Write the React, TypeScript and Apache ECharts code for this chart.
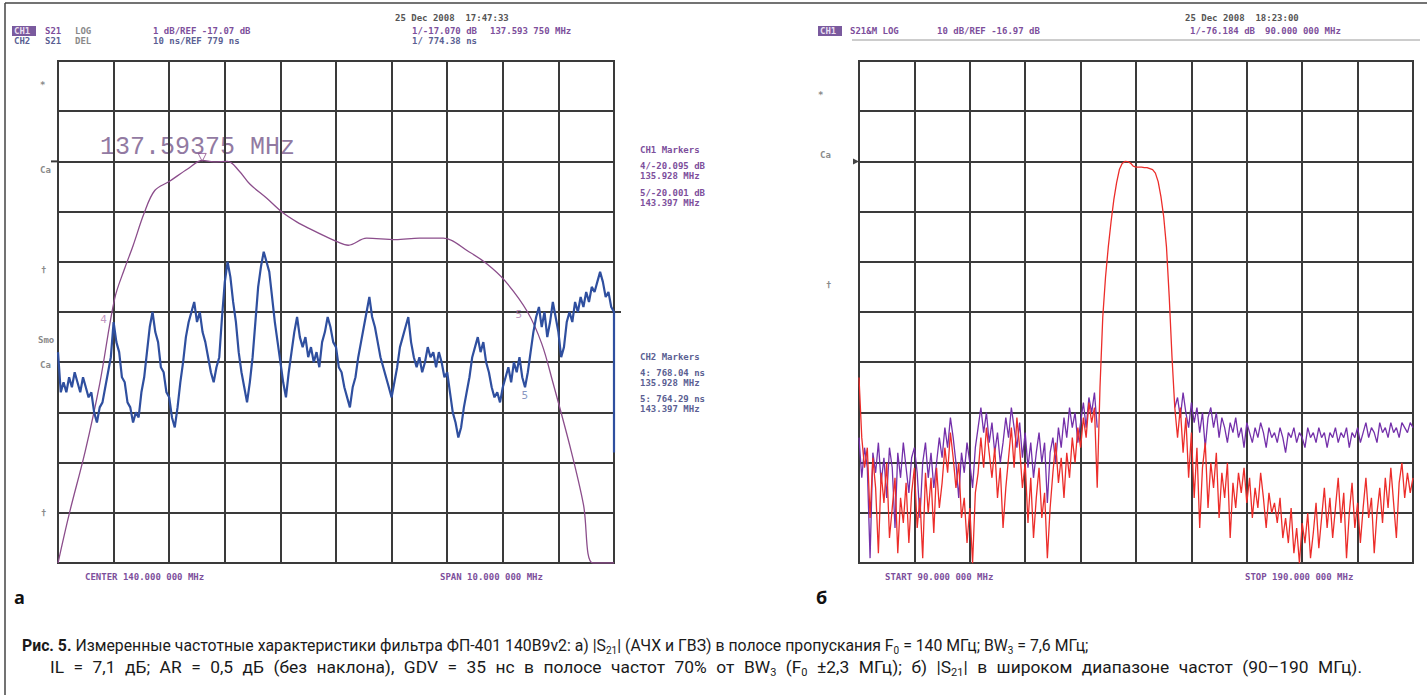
import React, { useEffect, useRef } from "react";
import * as echarts from "echarts";

// ---------- Panel a: CH1 |S21| (dB), 1 dB/div, REF -17.07 dB ----------
const ch1FreqMHz = [135.0, 135.2, 135.49, 135.75, 136.02, 136.2, 136.35, 136.55, 136.74, 137.0, 137.33, 137.6, 137.8, 138.05, 138.25, 138.45, 138.75, 139.04, 139.3, 139.56, 139.8, 140.02, 140.22, 140.55, 141.07, 141.5, 141.93, 142.39, 142.7, 143.04, 143.44, 143.7, 143.9, 144.23, 144.45, 144.62, 145.0];
const ch1Db = [-25.07, -24.1, -22.84, -21.5, -19.8, -19.2, -18.75, -18.1, -17.65, -17.47, -17.22, -17.05, -17.08, -17.07, -17.25, -17.52, -17.8, -18.09, -18.28, -18.43, -18.56, -18.67, -18.74, -18.6, -18.63, -18.6, -18.6, -18.87, -19.1, -19.45, -20.06, -20.7, -21.47, -22.84, -23.9, -25.07, -25.07];

// ---------- Panel a: CH2 group delay (ns), 10 ns/div, REF 779 ns ----------
const ch2StartMHz = 135;
const ch2StepMHz = 0.05;
const ch2DelayNs = [
  771, 763, 765, 763, 766, 764, 767, 765, 763, 766,
  764, 762, 763, 759, 757, 760, 761, 764, 767, 770,
  777, 773, 771, 766, 765, 761, 760, 757, 759, 758,
  763, 766, 771, 776, 779, 775, 773, 768, 767, 763,
  762, 758, 756, 760, 765, 769, 774, 777, 779, 781,
  777, 779, 775, 773, 770, 767, 765, 768, 770, 778,
  785, 789, 786, 781, 777, 771, 767, 764, 761, 765,
  770, 777, 784, 788, 791, 789, 787, 782, 777, 773,
  769, 765, 762, 767, 771, 775, 778, 774, 772, 774,
  770, 772, 769, 771, 768, 773, 775, 778, 776, 773,
  772, 768, 767, 764, 762, 760, 764, 766, 770, 773,
  776, 779, 782, 778, 776, 773, 770, 768, 766, 764,
  762, 765, 768, 772, 774, 776, 778, 773, 770, 768,
  770, 767, 769, 772, 770, 771, 768, 771, 769, 766,
  767, 763, 759, 757, 754, 756, 760, 763, 766, 770,
  772, 774, 771, 773, 769, 767, 764, 762, 763, 761,
  764, 766, 768, 765, 769, 767, 770, 766, 764, 767,
  771, 775, 778, 780, 776, 779, 774, 777, 781, 778,
  775, 770, 772, 777, 779, 777, 781, 779, 782, 780,
  783, 781, 784, 783, 785, 787, 785, 782, 783, 780,
  779,
];
const ch2EndDropNs = 751;

// markers (panel a)
const markerNames = ["4", "5"];
const markerFreqMHz = [135.928, 143.397];
const markerCh1Db = [-20.095, -20.001];
const markerCh2Ns = [768.04, 764.29];
const marker1FreqMHz = 137.59375;
const marker1Db = -17.07;

// ---------- Panel b: wide band |S21| (dB), 10 dB/div, REF -16.97 dB ----------
const wbStartMHz = 90;
const wbStepMHz = 0.5;
// red trace, 90.0 .. 133.0 MHz
const redLowDb = [
  -60, -72, -78, -74, -88, -76, -82, -95, -79, -85,
  -77, -92, -86, -80, -95, -84, -89, -81, -93, -83,
  -78, -90, -84, -96, -79, -87, -80, -91, -78, -86,
  -81, -74, -79, -71, -76, -82, -77, -88, -84, -93,
  -86, -97, -83, -79, -72, -78, -70, -75, -80, -74,
  -84, -78, -90, -82, -76, -70, -78, -68, -74, -82,
  -77, -89, -80, -92, -84, -78, -88, -83, -96, -86,
  -79, -73, -81, -76, -84, -75, -80, -72, -77, -70,
  -74, -68, -72, -65, -69, -66, -82,
];
// red trace passband, 133.5 .. 147.0 MHz
const redPassDb = [-62, -48, -40, -34, -29, -24.6, -21.2, -18.6, -17.4, -16.97, -17.0, -17.3, -17.9, -18.1, -18.1, -18.1, -18.2, -18.2, -18.4, -18.6, -19.3, -21, -24, -28, -34, -44, -56, -66];
// red trace, 147.5 .. 190.0 MHz
const redHighDb = [
  -72, -66, -75, -68, -80, -71, -84, -74, -90, -78,
  -73, -86, -77, -82, -75, -88, -79, -84, -77, -92,
  -81, -86, -79, -83, -78, -85, -80, -88, -82, -86,
  -79, -84, -90, -83, -87, -85, -89, -84, -92, -88,
  -93, -86, -95, -90, -97, -89, -93, -87, -96, -91,
  -85, -94, -88, -82, -90, -84, -92, -86, -80, -89,
  -83, -96, -87, -81, -90, -85, -93, -86, -80, -88,
  -84, -95, -87, -82, -89, -80, -86, -78, -85, -92,
  -81, -77, -84, -79, -83, -80,
];
// purple trace, 90.0 .. 133.0 MHz
const purpleLowDb = [
  -72, -80, -74, -78, -96, -75, -79, -73, -81, -76,
  -84, -74, -78, -90, -75, -80, -73, -78, -83, -76,
  -74, -79, -88, -77, -73, -80, -75, -82, -77, -72,
  -76, -70, -74, -68, -72, -77, -84, -75, -79, -73,
  -77, -82, -74, -70, -66, -71, -67, -73, -69, -75,
  -71, -77, -73, -68, -72, -66, -70, -74, -69, -76,
  -71, -78, -73, -80, -75, -71, -77, -73, -85, -75,
  -72, -77, -70, -74, -68, -72, -66, -70, -67, -73,
  -69, -65, -70, -64, -67, -63, -70,
];
// purple trace, 147.5 .. 190.0 MHz
const purpleHighDb = [
  -64, -68, -63, -67, -70, -65, -69, -66, -71, -67,
  -74, -68, -66, -70, -67, -72, -68, -70, -73, -69,
  -71, -68, -72, -70, -74, -69, -71, -73, -70, -72,
  -69, -71, -74, -70, -72, -71, -73, -70, -72, -75,
  -71, -72, -70, -73, -71, -72, -74, -70, -72, -71,
  -73, -70, -72, -71, -74, -71, -72, -70, -73, -71,
  -72, -70, -74, -71, -72, -70, -73, -71, -69, -72,
  -70, -71, -73, -69, -71, -70, -72, -69, -71, -70,
  -72, -69, -70, -71, -69, -70,
];

// ---------- caption ----------
const captionLine1: [string, string][] = [
  ["b", "Рис. 5."],
  ["n", " Измеренные частотные характеристики фильтра ФП-401 140В9v2: а) |S"],
  ["s", "21"],
  ["n", "| (АЧХ и ГВЗ) в полосе пропускания F"],
  ["s", "0"],
  ["n", " = 140 МГц; BW"],
  ["s", "3"],
  ["n", " = 7,6 МГц;"],
];
const captionLine2: [string, string][] = [
  ["n", "IL = 7,1 дБ; AR = 0,5 дБ (без наклона), GDV = 35 нс в полосе частот 70% от BW"],
  ["s", "3"],
  ["n", " (F"],
  ["s", "0"],
  ["n", " ±2,3 МГц); б) |S"],
  ["s", "21"],
  ["n", "| в широком диапазоне частот (90–190 МГц)."],
];

// ---------- layout ----------
const GL = { left: 58, top: 61, width: 556, height: 502 };
const GR = { left: 859, top: 61, width: 554, height: 502 };
const GRID_COLOR = "#3a3a3a";
const MONO = "'DejaVu Sans Mono', monospace";
const C_CH1 = "#7d4f9c";
const C_CH2 = "#5b5f93";
const C_GREY = "#8a8a8a";
const CAP_FONT = "Roboto, 'Noto Sans', sans-serif";
const CAP_SIZE = 15.8;
const SUB_SIZE = 10;
const CAP2_SCALE = 1.1;

function r2(v: number) {
  return Math.round(v * 1000) / 1000;
}

function buildCh1() {
  return ch1FreqMHz.map((f, i) => [f, ch1Db[i]]);
}
function buildCh2() {
  const d = ch2DelayNs.map((v, i) => [r2(ch2StartMHz + i * ch2StepMHz), v]);
  d.push([145, ch2EndDropNs]);
  return d;
}
function buildRed() {
  const all = [...redLowDb, ...redPassDb, ...redHighDb];
  return all.map((v, i) => [r2(wbStartMHz + i * wbStepMHz), v]);
}
function buildPurple() {
  const out: (number | null)[][] = [];
  purpleLowDb.forEach((v, i) => out.push([r2(wbStartMHz + i * wbStepMHz), v]));
  const lowEnd = wbStartMHz + (purpleLowDb.length - 1) * wbStepMHz;
  out.push([r2(lowEnd + wbStepMHz), null]);
  const highStart = wbStartMHz + (redLowDb.length + redPassDb.length) * wbStepMHz;
  out.push([r2(highStart - wbStepMHz), redPassDb[redPassDb.length - 1]]);
  purpleHighDb.forEach((v, i) => out.push([r2(highStart + i * wbStepMHz), v]));
  return out;
}

let measureCtx: CanvasRenderingContext2D | null = null;
function measure(text: string, size: number, weight = "normal") {
  if (!measureCtx) measureCtx = document.createElement("canvas").getContext("2d");
  if (!measureCtx) return text.length * size * 0.5;
  measureCtx.font = `${weight} ${size}px ${CAP_FONT}`;
  return measureCtx.measureText(text).width;
}

// builds rich text; if targetWidth given, spaces of normal text are widened to fill it
function buildCaption(parts: [string, string][], targetWidth: number | null) {
  let natural = 0;
  let spaces = 0;
  parts.forEach(([k, t]) => {
    if (k === "s") natural += measure(t, SUB_SIZE);
    else natural += measure(t, CAP_SIZE, k === "b" ? "bold" : "normal");
    if (k === "n") spaces += (t.match(/ /g) || []).length;
  });
  const spaceW = measure(" ", CAP_SIZE);
  const extra = targetWidth && spaces > 0 ? Math.max(0, (targetWidth - natural) / spaces) : 0;
  let text = "";
  parts.forEach(([k, t]) => {
    if (k === "n" && extra > 0) {
      const words = t.split(" ");
      words.forEach((w, i) => {
        if (i > 0) text += "{sp| }";
        if (w.length) text += `{n|${w}}`;
      });
    } else {
      text += `{${k}|${t}}`;
    }
  });
  const base = { fontSize: CAP_SIZE, fontFamily: CAP_FONT, fill: "#1a1a1a", lineHeight: 20 };
  const rich = {
    n: { ...base },
    b: { ...base, fontWeight: "bold" },
    s: { fontSize: SUB_SIZE, fontFamily: CAP_FONT, fill: "#1a1a1a", lineHeight: 20, verticalAlign: "bottom" },
    sp: { ...base, width: spaceW + extra },
  };
  return { text, rich };
}

function txt(x: number, y: number, text: string, fill: string, size = 9, weight: string = "bold", family = MONO, extra: any = {}) {
  return {
    type: "text",
    x,
    y,
    silent: true,
    style: {
      text,
      fill,
      fontSize: size,
      fontWeight: weight,
      fontFamily: family,
      verticalAlign: "middle",
      align: "left",
      ...extra,
    },
  };
}

function hline(x1: number, x2: number, y: number, stroke: string, w = 1) {
  return { type: "line", silent: true, shape: { x1, y1: y, x2, y2: y }, style: { stroke, lineWidth: w } };
}
function vline(x: number, y1: number, y2: number, stroke: string, w = 1) {
  return { type: "line", silent: true, shape: { x1: x, y1, x2: x, y2 }, style: { stroke, lineWidth: w } };
}

function divAxis(gridIndex: number) {
  return {
    gridIndex,
    type: "value",
    min: 0,
    max: 10,
    interval: 1,
    axisLabel: { show: false },
    axisTick: { show: false },
    axisLine: { show: false },
    splitLine: { show: true, lineStyle: { color: GRID_COLOR, width: 2 } },
  };
}
function hiddenAxis(gridIndex: number, min: number, max: number) {
  return { gridIndex, type: "value", min, max, show: false, splitLine: { show: false } };
}

function buildOption() {
  const refYL = GL.top + (GL.height / 10) * 2;
  const refY2 = GL.top + (GL.height / 10) * 5;
  const refYR = GR.top + (GR.height / 10) * 2;
  const lBottom = GL.top + GL.height;
  const rBottom = GR.top + GR.height;

  const cap1 = buildCaption(captionLine1, null);
  const cap2 = buildCaption(captionLine2, (1362 - 50) / CAP2_SCALE);

  const graphic: any[] = [
    // frame
    hline(5, 1427, 3, "#444", 1.5),
    vline(5, 3, 695, "#444", 1.5),
    // ---- panel a header
    txt(395, 18, "25 Dec 2008  17:47:33", "#555"),
    { type: "rect", silent: true, shape: { x: 12, y: 26, width: 24, height: 10 }, style: { fill: "#7a5a9e" } },
    txt(14, 31, "CH1", "#e8dff0"),
    txt(45, 31, "S21", C_CH1),
    txt(75, 31, "LOG", C_GREY),
    txt(153, 31, "1 dB/REF -17.07 dB", C_CH1),
    txt(412, 31, "1/-17.070 dB", C_CH1),
    txt(490, 31, "137.593 750 MHz", C_CH1),
    txt(14, 41, "CH2", C_CH2),
    txt(45, 41, "S21", C_CH2),
    txt(75, 41, "DEL", C_GREY),
    txt(153, 41, "10 ns/REF 779 ns", C_CH2),
    txt(412, 41, "1/ 774.38 ns", C_CH2),
    // side labels
    txt(40, 85, "*", C_GREY),
    txt(40, 170, "Ca", C_GREY),
    txt(41, 270, "†", C_GREY),
    txt(38, 340, "Smo", C_GREY),
    txt(40, 365, "Ca", C_GREY),
    txt(41, 513, "†", C_GREY),
    // markers list
    txt(640, 150, "CH1 Markers", C_CH1),
    txt(640, 166, "4/-20.095 dB", C_CH1),
    txt(640, 176, "135.928 MHz", C_CH1),
    txt(640, 193, "5/-20.001 dB", C_CH1),
    txt(640, 203, "143.397 MHz", C_CH1),
    txt(640, 357, "CH2 Markers", C_CH2),
    txt(640, 373, "4: 768.04 ns", C_CH2),
    txt(640, 383, "135.928 MHz", C_CH2),
    txt(640, 399, "5: 764.29 ns", C_CH2),
    txt(640, 409, "143.397 MHz", C_CH2),
    // big marker readout
    txt(100, 147, "137.59375 MHz", "#927aa2", 25, "normal", "'Liberation Mono', monospace"),
    // ref ticks
    hline(51, GL.left, refYL, GRID_COLOR, 2),
    hline(GL.left + GL.width, GL.left + GL.width + 7, refY2, GRID_COLOR, 2),
    { type: "polygon", silent: true, shape: { points: [[GR.left - 6, refYR - 3], [GR.left, refYR], [GR.left - 6, refYR + 3]] }, style: { fill: "#444" } },
    // footer
    txt(85, lBottom + 14, "CENTER 140.000 000 MHz", C_CH1),
    txt(440, lBottom + 14, "SPAN 10.000 000 MHz", C_CH1),
    txt(14, lBottom + 34, "а", "#111", 18, "bold", "'Open Sans', sans-serif"),
    // ---- panel b header
    txt(1185, 18, "25 Dec 2008  18:23:00", "#555"),
    { type: "rect", silent: true, shape: { x: 818, y: 26, width: 24, height: 10 }, style: { fill: "#7a5a9e" } },
    txt(820, 31, "CH1", "#e8dff0"),
    txt(850, 31, "S21&M LOG", C_CH1),
    txt(937, 31, "10 dB/REF -16.97 dB", C_CH1),
    txt(1190, 31, "1/-76.184 dB", C_CH1),
    txt(1265, 31, "90.000 000 MHz", C_CH1),
    hline(852, 1420, 40, "#9a9a9a", 1),
    txt(818, 95, "*", C_GREY),
    txt(820, 155, "Ca", C_GREY),
    txt(826, 285, "†", C_GREY),
    txt(885, rBottom + 14, "START 90.000 000 MHz", C_CH1),
    txt(1245, rBottom + 14, "STOP 190.000 000 MHz", C_CH1),
    txt(816, rBottom + 34, "б", "#111", 18, "bold", "'Open Sans', sans-serif"),
    // ---- caption
    {
      type: "text",
      x: 22,
      y: 645,
      silent: true,
      style: { text: cap1.text, rich: cap1.rich, verticalAlign: "middle", align: "left" },
    },
    {
      type: "text",
      x: 50,
      y: 668,
      scaleX: CAP2_SCALE,
      silent: true,
      style: { text: cap2.text, rich: cap2.rich, verticalAlign: "middle", align: "left" },
    },
  ];

  return {
    animation: false,
    backgroundColor: "#ffffff",
    grid: [
      { ...GL, show: true, borderColor: GRID_COLOR, borderWidth: 2, backgroundColor: "transparent" },
      { ...GR, show: true, borderColor: GRID_COLOR, borderWidth: 2, backgroundColor: "transparent" },
    ],
    xAxis: [divAxis(0), hiddenAxis(0, 135, 145), divAxis(1), hiddenAxis(1, 90, 190)],
    yAxis: [
      divAxis(0),
      hiddenAxis(0, -25.07, -15.07),
      hiddenAxis(0, 729, 829),
      divAxis(1),
      hiddenAxis(1, -96.97, 3.03),
    ],
    series: [
      {
        name: "CH1 |S21|",
        type: "line",
        xAxisIndex: 1,
        yAxisIndex: 1,
        data: buildCh1(),
        smooth: 0.35,
        showSymbol: false,
        symbol: "none",
        lineStyle: { color: "#8b4d8b", width: 1.3 },
        z: 3,
      },
      {
        name: "CH2 GDT",
        type: "line",
        xAxisIndex: 1,
        yAxisIndex: 2,
        data: buildCh2(),
        showSymbol: false,
        symbol: "none",
        lineStyle: { color: "#2f4f9f", width: 2.2 },
        z: 4,
      },
      {
        name: "m-ch1",
        type: "scatter",
        xAxisIndex: 1,
        yAxisIndex: 1,
        symbolSize: 0,
        data: markerFreqMHz.map((f, i) => ({ value: [f, markerCh1Db[i]], name: markerNames[i] })),
        label: { show: true, formatter: "{b}", color: "#b07ab0", fontSize: 11, fontFamily: MONO, offset: [-6, 6] },
        z: 5,
      },
      {
        name: "m-ch2",
        type: "scatter",
        xAxisIndex: 1,
        yAxisIndex: 2,
        symbolSize: 0,
        data: [{ value: [markerFreqMHz[1], markerCh2Ns[1]], name: markerNames[1] }],
        label: { show: true, formatter: "{b}", color: "#6a7ab0", fontSize: 11, fontFamily: MONO, offset: [0, 10] },
        z: 5,
      },
      {
        name: "m1",
        type: "scatter",
        xAxisIndex: 1,
        yAxisIndex: 1,
        symbol: "triangle",
        symbolRotate: 180,
        symbolSize: 8,
        symbolOffset: [0, -4],
        itemStyle: { color: "transparent", borderColor: "#8b4d8b", borderWidth: 1 },
        data: [[marker1FreqMHz, marker1Db]],
        z: 5,
      },
      {
        name: "wide purple",
        type: "line",
        xAxisIndex: 3,
        yAxisIndex: 4,
        data: buildPurple(),
        connectNulls: false,
        showSymbol: false,
        symbol: "none",
        lineStyle: { color: "#7430aa", width: 1.3 },
        z: 3,
      },
      {
        name: "wide red",
        type: "line",
        xAxisIndex: 3,
        yAxisIndex: 4,
        data: buildRed(),
        showSymbol: false,
        symbol: "none",
        lineStyle: { color: "#ec2d2a", width: 1.3 },
        z: 4,
      },
    ],
    graphic,
  };
}

export default function App() {
  const ref = useRef<HTMLDivElement>(null);
  useEffect(() => {
    if (!ref.current) return;
    const chart = echarts.init(ref.current, null, { renderer: "svg" });
    chart.setOption(buildOption() as any);
    return () => chart.dispose();
  }, []);
  return (
    <div
      ref={ref}
      style={{ position: "absolute", left: 0, top: 0, width: 1427, height: 695, background: "#fff" }}
    />
  );
}
